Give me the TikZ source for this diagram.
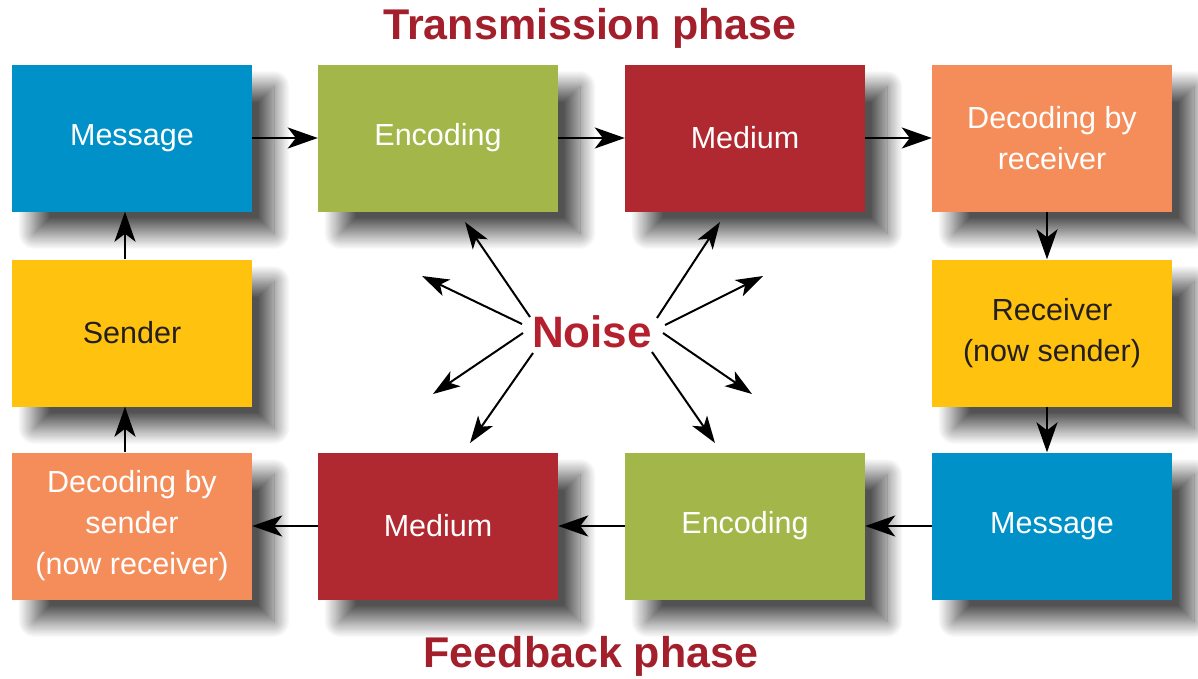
\documentclass[tikz,border=0pt]{standalone}
\usepackage{fontspec}
\setmainfont{Liberation Sans}
\usetikzlibrary{arrows.meta,shadows.blur}

\definecolor{boxblue}{RGB}{0,145,200}
\definecolor{boxgreen}{RGB}{162,182,74}
\definecolor{boxred}{RGB}{176,40,48}
\definecolor{boxorange}{RGB}{245,141,90}
\definecolor{boxyellow}{RGB}{255,194,14}
\definecolor{titlered}{RGB}{163,31,43}
\definecolor{noisered}{RGB}{181,32,46}
\definecolor{darktext}{RGB}{35,31,32}

\tikzset{
  stage/.style={rectangle, minimum width=240pt, minimum height=147pt,
    inner sep=0pt, align=center, text=white,
    font=\fontsize{30.5}{41}\selectfont,
    blur shadow={shadow xshift=22pt, shadow yshift=-22pt,
      shadow blur radius=16pt, shadow blur steps=30, shadow opacity=68}},
  flowtip/.tip={Stealth[length=30pt,width=21pt,inset=8pt]},
  spraytip/.tip={Stealth[length=27pt,width=18pt,inset=7pt]},
  flow/.style={draw=black, line width=2.3pt, -flowtip},
  spray/.style={draw=black, line width=2pt, -spraytip},
  phase/.style={text=titlered, font=\bfseries\fontsize{43}{48}\selectfont}
}

\begin{document}
\begin{tikzpicture}[x=1pt, y=-1pt]
\useasboundingbox (0,0) rectangle (1198,678);

% transmission row
\node[stage, fill=boxblue]   (msgA) at (132,138) {Message};
\node[stage, fill=boxgreen]  (encA) at (438,138) {Encoding};
\node[stage, fill=boxred]    (medA) at (745,138) {Medium};
\node[stage, fill=boxorange] (decA) at (1052,138) {Decoding by\\receiver};

% middle row
\node[stage, fill=boxyellow, text=darktext] (sender) at (132,333) {Sender};
\node[stage, fill=boxyellow, text=darktext] (receiver) at (1052,333) {Receiver\\(now sender)};

% feedback row
\node[stage, fill=boxorange] (decB) at (132,526) {Decoding by\\sender\\(now receiver)};
\node[stage, fill=boxred]    (medB) at (438,526) {Medium};
\node[stage, fill=boxgreen]  (encB) at (745,526) {Encoding};
\node[stage, fill=boxblue]   (msgB) at (1052,526) {Message};

% phase titles
\node[phase] (ttop) at (590,28) {Transmission phase};
\node[phase] (tbot) at (591,656) {Feedback phase};

% noise source and the directions it spreads in
\node[text=noisered, font=\bfseries\fontsize{44}{48}\selectfont] (noise) at (592,332) {Noise};
\coordinate (n1a) at (530,317); \coordinate (n1b) at (465,222);
\coordinate (n2a) at (522,324); \coordinate (n2b) at (422,276);
\coordinate (n3a) at (523,333); \coordinate (n3b) at (433,394);
\coordinate (n4a) at (533,353); \coordinate (n4b) at (470,443);
\coordinate (n5a) at (657,318); \coordinate (n5b) at (720,222);
\coordinate (n6a) at (665,325); \coordinate (n6b) at (763,276);
\coordinate (n7a) at (663,333); \coordinate (n7b) at (752,394);
\coordinate (n8a) at (652,352); \coordinate (n8b) at (715,443);
\foreach \k in {1,...,8} {\draw[spray] (n\k a) -- (n\k b);}

% transmission flow
\draw[flow] (msgA.east) -- (encA.west);
\draw[flow] (encA.east) -- (medA.west);
\draw[flow] (medA.east) -- (decA.west);
\draw[flow] ([xshift=-5pt]decA.south) -- ([xshift=-5pt]receiver.north);
\draw[flow] ([xshift=-5pt]receiver.south) -- ([xshift=-5pt]msgB.north);

% feedback flow
\draw[flow] (msgB.west) -- (encB.east);
\draw[flow] (encB.west) -- (medB.east);
\draw[flow] (medB.west) -- (decB.east);
\draw[flow] ([xshift=-7pt]decB.north) -- ([xshift=-7pt]sender.south);
\draw[flow] ([xshift=-7pt]sender.north) -- ([xshift=-7pt]msgA.south);
\end{tikzpicture}
\end{document}
